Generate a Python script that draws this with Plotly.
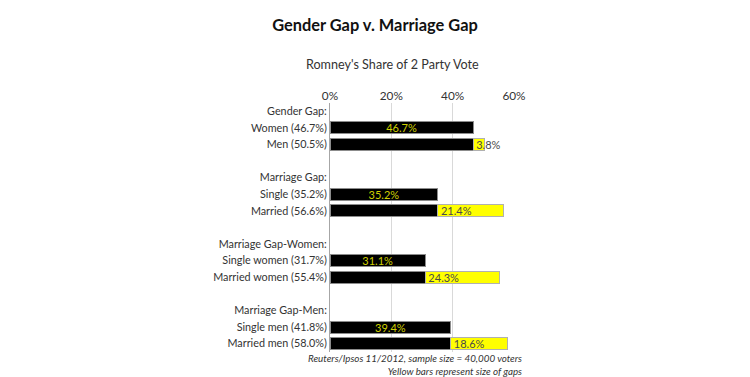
import plotly.graph_objects as go

categories = ["Gender Gap:", "Women (46.7%)", "Men (50.5%)", " ",
              "Marriage Gap:", "Single (35.2%)", "Married (56.6%)", "  ",
              "Marriage Gap-Women:", "Single women (31.7%)", "Married women (55.4%)", "   ",
              "Marriage Gap-Men:", "Single men (41.8%)", "Married men (58.0%)"]
base_values = [None, 46.7, 46.7, None, None, 35.2, 35.2, None, None, 31.1, 31.1, None, None, 39.4, 39.4]
base_labels = ["", "46.7%", "", "", "", "35.2%", "", "", "", "31.1%", "", "", "", "39.4%", ""]
gap_values = [None, None, 3.8, None, None, None, 21.4, None, None, None, 24.3, None, None, None, 18.6]
gap_labels = ["", "", "3.8%", "", "", "", "21.4%", "", "", "", "24.3%", "", "", "", "18.6%"]
tick_vals = [0, 20, 40, 60]
tick_text = ["0%", "20%", "40%", "60%"]

FONT = "Lato, 'Open Sans', sans-serif"

fig = go.Figure()
fig.add_trace(go.Bar(
    y=categories, x=base_values, orientation="h",
    marker=dict(color="#000000", line=dict(color="#8c8c8c", width=1)),
    text=base_labels, textposition="inside", insidetextanchor="middle",
    constraintext="none", textangle=0,
    insidetextfont=dict(color="#cfcf00", size=11, family=FONT),
    width=0.72, hoverinfo="x+y",
))
fig.add_trace(go.Bar(
    y=categories, x=gap_values, orientation="h",
    marker=dict(color="#ffff00", line=dict(color="#b0b0b0", width=1)),
    text=gap_labels, textposition="inside", insidetextanchor="start",
    constraintext="none", textangle=0,
    insidetextfont=dict(color="#4a4a4a", size=11, family=FONT),
    width=0.72, cliponaxis=False, hoverinfo="x+y",
))

fig.update_layout(
    barmode="stack",
    width=750, height=377,
    margin=dict(l=330, r=236, t=103, b=25),
    paper_bgcolor="white", plot_bgcolor="white",
    showlegend=False,
    font=dict(family=FONT, color="#404040"),
    title=dict(text="<b>Gender Gap v. Marriage Gap</b>", x=0.5, xanchor="center",
               y=1 - 25 / 377, yanchor="middle", yref="container",
               font=dict(size=16.4, color="#111111", family=FONT)),
    xaxis=dict(side="top", range=[0, 60], tickvals=tick_vals, ticktext=tick_text,
               showgrid=True, gridcolor="#d9d9d9", gridwidth=1,
               zeroline=False, showline=False, ticks="",
               tickfont=dict(size=11.8, color="#333333"), fixedrange=True),
    yaxis=dict(categoryorder="array", categoryarray=categories, autorange="reversed",
               showline=True, linecolor="#a6a6a6", linewidth=1, ticks="",
               tickfont=dict(size=10.8, color="#333333"), showgrid=False, fixedrange=True),
    annotations=[
        dict(text="Romney's Share of 2 Party Vote", xref="paper", yref="paper",
             x=(392 - 330) / 184, y=1 + (103 - 64) / 249, xanchor="center", yanchor="middle",
             showarrow=False, font=dict(size=12.6, color="#333333")),
        dict(text="<i>Reuters/Ipsos 11/2012, sample size = 40,000 voters</i><br><i>Yellow bars represent size of gaps</i>",
             xref="paper", yref="paper", x=(524 - 330) / 184, y=-(364 - 352) / 249,
             xanchor="right", yanchor="middle", align="right", showarrow=False,
             font=dict(size=9.8, color="#333333")),
    ],
)

fig.write_html("out.html", config={"displayModeBar": False},
               post_script="document.body.style.margin='0';")
